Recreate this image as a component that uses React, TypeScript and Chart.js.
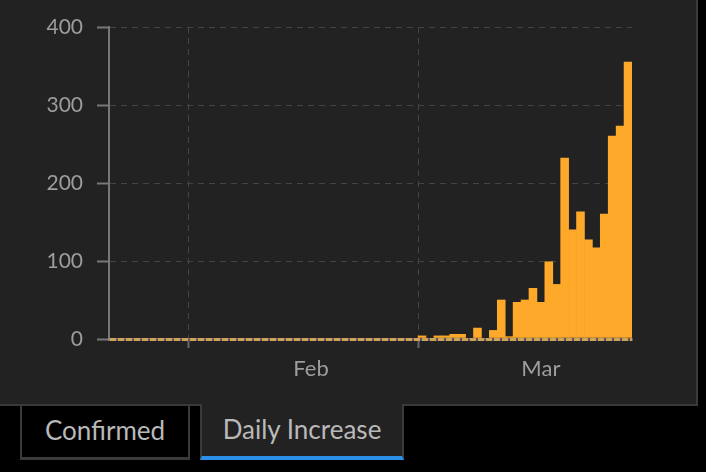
import React, { useEffect, useRef } from 'react';
import { Chart, registerables } from 'chart.js';

Chart.register(...registerables);

const dates = [
  '1/22', '1/23', '1/24', '1/25', '1/26', '1/27', '1/28', '1/29', '1/30', '1/31',
  '2/1', '2/2', '2/3', '2/4', '2/5', '2/6', '2/7', '2/8', '2/9', '2/10',
  '2/11', '2/12', '2/13', '2/14', '2/15', '2/16', '2/17', '2/18', '2/19', '2/20',
  '2/21', '2/22', '2/23', '2/24', '2/25', '2/26', '2/27', '2/28', '2/29',
  '3/1', '3/2', '3/3', '3/4', '3/5', '3/6', '3/7', '3/8', '3/9', '3/10',
  '3/11', '3/12', '3/13', '3/14', '3/15', '3/16', '3/17', '3/18', '3/19', '3/20',
  '3/21', '3/22', '3/23', '3/24', '3/25', '3/26', '3/27',
];

const dailyIncrease = [
  0, 0, 0, 0, 0, 0, 0, 0, 0, 0,
  0, 0, 0, 0, 0, 0, 0, 0, 0, 0,
  0, 0, 0, 0, 0, 0, 0, 0, 0, 0,
  0, 0, 0, 0, 0, 0, 0, 0, 0,
  4, 0, 4, 4, 6, 6, 0, 14, 0, 11,
  50, 3, 47, 50, 65, 47, 99, 70, 232, 140,
  163, 127, 117, 160, 260, 273, 355,
];

const yTickValues = [0, 100, 200, 300, 400];
const monthLabels = ['Feb', 'Mar'];
const monthLabelDates = ['2/16', '3/16'];
const monthStartDates = ['2/1', '3/1'];
const tabLabels = ['Confirmed', 'Daily Increase'];

const BAR_COLOR = '#ffa92b';
const GRID_COLOR = '#444444';
const AXIS_COLOR = '#777777';
const TICK_TEXT = '#9d9d9d';
const FONT = 'Lato, "Open Sans", sans-serif';

function DailyChart() {
  const ref = useRef<HTMLCanvasElement | null>(null);
  useEffect(() => {
    if (!ref.current) return;
    const chart = new Chart(ref.current, {
      type: 'bar',
      data: {
        labels: dates,
        datasets: [
          {
            data: dailyIncrease,
            backgroundColor: BAR_COLOR,
            borderWidth: 0,
            barPercentage: 1,
            categoryPercentage: 1,
          },
        ],
      },
      options: {
        animation: false,
        responsive: false,
        maintainAspectRatio: false,
        layout: { padding: { top: 27, right: 64, bottom: 0, left: 0 } },
        plugins: { legend: { display: false }, tooltip: { enabled: false } },
        scales: {
          x: {
            type: 'category',
            offset: true,
            grid: {
              offset: true,
              color: (ctx: any) => (monthStartDates.includes(dates[ctx.index]) ? GRID_COLOR : 'rgba(0,0,0,0)'),
              tickColor: (ctx: any) => (monthStartDates.includes(dates[ctx.index]) ? '#666666' : 'rgba(0,0,0,0)'),
              lineWidth: 1,
              tickLength: 9,
              tickWidth: 2,
            },
            border: {
              display: true,
              color: 'rgba(150,150,150,0.45)',
              width: 3,
              z: 1,
              dash: [6, 5],
            },
            ticks: {
              autoSkip: false,
              maxRotation: 0,
              minRotation: 0,
              padding: 8,
              color: TICK_TEXT,
              font: { family: FONT, size: 22 },
              callback: (_v: any, i: number) => {
                const k = monthLabelDates.indexOf(dates[i]);
                return k >= 0 ? monthLabels[k] : '';
              },
            },
            afterFit: (s: any) => {
              s.height = 65;
            },
          },
          y: {
            min: yTickValues[0],
            max: yTickValues[yTickValues.length - 1],
            grid: {
              color: (ctx: any) => (ctx.tick && ctx.tick.value === 0 ? BAR_COLOR : GRID_COLOR),
              lineWidth: (ctx: any) => (ctx.tick && ctx.tick.value === 0 ? 3 : 1),
              tickColor: AXIS_COLOR,
              tickLength: 12,
              tickWidth: 2,
            },
            border: {
              display: true,
              color: AXIS_COLOR,
              width: 2,
              dash: (ctx: any) => (ctx.tick && ctx.tick.value === 0 ? [6, 2] : [6, 5]),
            },
            ticks: {
              stepSize: 100,
              padding: 14,
              color: TICK_TEXT,
              font: { family: FONT, size: 21 },
            },
            afterFit: (s: any) => {
              s.width = 109;
            },
          },
        },
      },
    } as any);
    return () => chart.destroy();
  }, []);
  return <canvas ref={ref} width={696} height={404} style={{ display: 'block', width: 696, height: 404 }} />;
}

export default function App() {
  const tabText: React.CSSProperties = {
    fontFamily: FONT,
    fontSize: 26,
    color: '#b9b9b9',
    display: 'flex',
    alignItems: 'center',
    justifyContent: 'center',
    boxSizing: 'content-box',
    position: 'absolute',
    paddingBottom: 3,
  };
  return (
    <div
      style={{
        position: 'fixed',
        left: 0,
        top: 0,
        width: 706,
        height: 472,
        background: '#000',
        overflow: 'hidden',
      }}
    >
      <div
        style={{
          position: 'absolute',
          left: 0,
          top: 0,
          width: 696,
          height: 404,
          background: '#222222',
          borderRight: '2px solid #3a3a3a',
          borderBottom: '2px solid #3a3a3a',
        }}
      >
        <DailyChart />
      </div>
      <div
        style={{
          ...tabText,
          left: 20,
          top: 406,
          width: 166,
          height: 48,
          background: '#000',
          borderLeft: '2px solid #3a3a3a',
          borderRight: '2px solid #3a3a3a',
          borderBottom: '3px solid #3a3a3a',
        }}
      >
        {tabLabels[0]}
      </div>
      <div
        style={{
          ...tabText,
          left: 200,
          top: 404,
          width: 200,
          height: 49,
          background: '#222222',
          borderLeft: '2px solid #3a3a3a',
          borderRight: '2px solid #3a3a3a',
          borderBottom: '4px solid #2b90ea',
        }}
      >
        {tabLabels[1]}
      </div>
    </div>
  );
}
